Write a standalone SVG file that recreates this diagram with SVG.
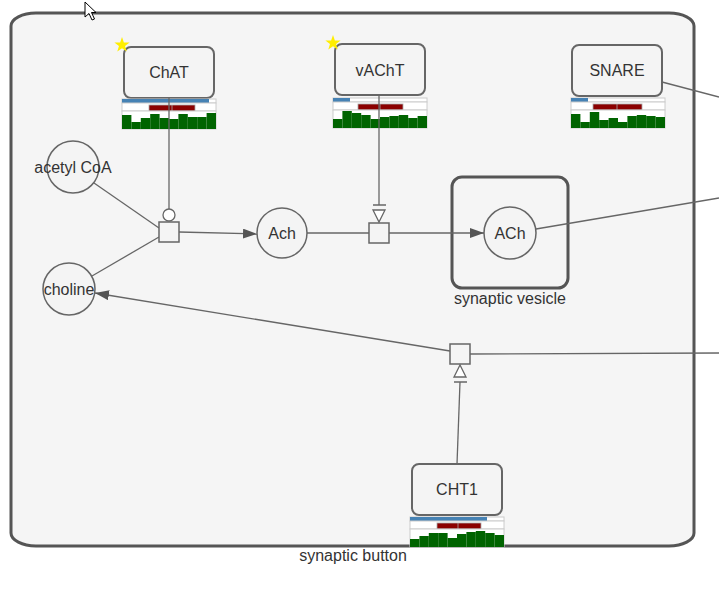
<svg xmlns="http://www.w3.org/2000/svg" width="719" height="591" viewBox="0 0 719 591">
<defs>
<style>
.lbl{font-family:"Liberation Sans",Arial,sans-serif;font-size:16px;fill:#333;text-anchor:middle;dominant-baseline:central}
.clbl{font-family:"Liberation Sans",Arial,sans-serif;font-size:16px;fill:#333;text-anchor:middle;dominant-baseline:central}
.box{fill:#f4f4f4;stroke:#666;stroke-width:2}
.circ{fill:#f4f4f4;stroke:#666;stroke-width:1.5}
.proc{fill:#f4f4f4;stroke:#666;stroke-width:1.5}
.edge{fill:none;stroke:#666;stroke-width:1.3}
.cell{fill:#fff;stroke:#ccc;stroke-width:1}
.blue{fill:#4682b4}
.red{fill:#8b0000;stroke:#aaa;stroke-width:0.8}
.g{fill:#006400}
.star{fill:#ffee00}
</style>
<marker id="arr" markerWidth="14" markerHeight="10" refX="14" refY="5" orient="auto" markerUnits="userSpaceOnUse">
<path d="M0,0 L14,5 L0,10 Z" fill="#555"/>
</marker>
<polygon id="starShape" class="star" points="0,-8 1.88,-2.59 7.61,-2.47 3.04,0.99 4.70,6.47 0,3.2 -4.70,6.47 -3.04,0.99 -7.61,-2.47 -1.88,-2.59"/>
</defs>
<rect x="0" y="0" width="719" height="591" fill="#fff"/>

<g id="synaptic_button">
<path d="M11,26 A25,13 0 0 1 36,13 L669,13 A25,13 0 0 1 694,26 L694,533 A25,13 0 0 1 669,546 L36,546 A25,13 0 0 1 11,533 Z" fill="#f5f5f5" stroke="#555" stroke-width="3"/>
<text class="clbl" x="353" y="555">synaptic button</text>
</g>

<g id="synaptic_vesicle">
<rect x="452" y="177" width="116" height="111" rx="10" ry="10" fill="#f5f5f5" stroke="#555" stroke-width="3"/>
<text class="clbl" x="510" y="298">synaptic vesicle</text>
</g>

<g id="ChAT">
<rect class="box" x="124" y="47" width="90" height="51" rx="7"/>
<text class="lbl" x="169" y="72">ChAT</text>
<use href="#starShape" x="122" y="45"/>
<g transform="translate(122,99)">
<rect class="cell" x="0" y="0" width="94" height="4"/><rect class="blue" x="0" y="0" width="87" height="4"/>
<rect class="cell" x="0" y="4" width="94" height="8"/>
<rect class="red" x="27" y="6" width="46" height="6"/><line x1="50" y1="6" x2="50" y2="12" stroke="#aaa" stroke-width="0.8"/>
<rect class="cell" x="0" y="12" width="94" height="18"/>
<rect class="g" x="0" y="16" width="9.4" height="14"/><rect class="g" x="9.4" y="23" width="9.4" height="7"/><rect class="g" x="18.8" y="19" width="9.4" height="11"/><rect class="g" x="28.2" y="15" width="9.4" height="15"/><rect class="g" x="37.6" y="19" width="9.4" height="11"/><rect class="g" x="47" y="20" width="9.4" height="10"/><rect class="g" x="56.4" y="15" width="9.4" height="15"/><rect class="g" x="65.8" y="18" width="9.4" height="12"/><rect class="g" x="75.2" y="18" width="9.4" height="12"/><rect class="g" x="84.6" y="14" width="9.4" height="16"/>
</g>
</g>

<g id="vAChT">
<rect class="box" x="335" y="44" width="90" height="51" rx="7"/>
<text class="lbl" x="380" y="70">vAChT</text>
<use href="#starShape" x="333" y="43"/>
<g transform="translate(333,98)">
<rect class="cell" x="0" y="0" width="94" height="4"/><rect class="blue" x="0" y="0" width="17" height="4"/>
<rect class="cell" x="0" y="4" width="94" height="8"/>
<rect class="red" x="25" y="6" width="45" height="6"/><line x1="47" y1="6" x2="47" y2="12" stroke="#aaa" stroke-width="0.8"/>
<rect class="cell" x="0" y="12" width="94" height="18"/>
<rect class="g" x="0" y="21" width="9.4" height="9"/><rect class="g" x="9.4" y="13" width="9.4" height="17"/><rect class="g" x="18.8" y="15" width="9.4" height="15"/><rect class="g" x="28.2" y="17" width="9.4" height="13"/><rect class="g" x="37.6" y="21" width="9.4" height="9"/><rect class="g" x="47" y="19" width="9.4" height="11"/><rect class="g" x="56.4" y="18" width="9.4" height="12"/><rect class="g" x="65.8" y="17" width="9.4" height="13"/><rect class="g" x="75.2" y="20" width="9.4" height="10"/><rect class="g" x="84.6" y="18" width="9.4" height="12"/>
</g>
</g>

<g id="SNARE">
<rect class="box" x="572" y="45" width="90" height="51" rx="7"/>
<text class="lbl" x="617" y="70">SNARE</text>
<g transform="translate(571,98)">
<rect class="cell" x="0" y="0" width="94" height="4"/><rect class="blue" x="0" y="0" width="17" height="4"/>
<rect class="cell" x="0" y="4" width="94" height="8"/>
<rect class="red" x="22" y="6" width="49" height="6"/><line x1="46" y1="6" x2="46" y2="12" stroke="#aaa" stroke-width="0.8"/>
<rect class="cell" x="0" y="12" width="94" height="18"/>
<rect class="g" x="0" y="16" width="9.4" height="14"/><rect class="g" x="9.4" y="24" width="9.4" height="6"/><rect class="g" x="18.8" y="14" width="9.4" height="16"/><rect class="g" x="28.2" y="22" width="9.4" height="8"/><rect class="g" x="37.6" y="20" width="9.4" height="10"/><rect class="g" x="47" y="24" width="9.4" height="6"/><rect class="g" x="56.4" y="18" width="9.4" height="12"/><rect class="g" x="65.8" y="17" width="9.4" height="13"/><rect class="g" x="75.2" y="18" width="9.4" height="12"/><rect class="g" x="84.6" y="19" width="9.4" height="11"/>
</g>
</g>

<g id="CHT1">
<rect class="box" x="412" y="464" width="90" height="51" rx="7"/>
<text class="lbl" x="457" y="489">CHT1</text>
<g transform="translate(410,517)">
<rect class="cell" x="0" y="0" width="94" height="4"/><rect class="blue" x="0" y="0" width="77" height="4"/>
<rect class="cell" x="0" y="4" width="94" height="8"/>
<rect class="red" x="27" y="6" width="44" height="6"/><line x1="48" y1="6" x2="48" y2="12" stroke="#aaa" stroke-width="0.8"/>
<rect class="cell" x="0" y="12" width="94" height="18"/>
<rect class="g" x="0" y="22" width="9.4" height="8"/><rect class="g" x="9.4" y="19" width="9.4" height="11"/><rect class="g" x="18.8" y="16" width="9.4" height="14"/><rect class="g" x="28.2" y="16" width="9.4" height="14"/><rect class="g" x="37.6" y="21" width="9.4" height="9"/><rect class="g" x="47" y="17" width="9.4" height="13"/><rect class="g" x="56.4" y="15" width="9.4" height="15"/><rect class="g" x="65.8" y="14" width="9.4" height="16"/><rect class="g" x="75.2" y="16" width="9.4" height="14"/><rect class="g" x="84.6" y="18" width="9.4" height="12"/>
</g>
</g>

<g id="acetyl_CoA">
<circle class="circ" cx="73" cy="167" r="26"/>
<text class="lbl" x="73" y="167">acetyl CoA</text>
</g>
<g id="choline">
<circle class="circ" cx="69" cy="289" r="26"/>
<text class="lbl" x="69" y="289">choline</text>
</g>
<g id="Ach">
<circle class="circ" cx="282" cy="233" r="25"/>
<text class="lbl" x="282" y="233">Ach</text>
</g>
<g id="ACh_vesicle">
<circle class="circ" cx="510" cy="233" r="26"/>
<text class="lbl" x="510" y="233">ACh</text>
</g>

<g id="connectors">
<line class="edge" x1="169" y1="98" x2="169" y2="209"/>
<line class="edge" x1="379" y1="95" x2="379" y2="205"/>
<line class="edge" x1="457" y1="464" x2="460" y2="382"/>
<line class="edge" x1="94" y1="183" x2="159" y2="228"/>
<line class="edge" x1="92" y1="276" x2="159" y2="237"/>
<line class="edge" x1="179" y1="232" x2="257" y2="234" marker-end="url(#arr)"/>
<line class="edge" x1="307" y1="233" x2="369" y2="233"/>
<line class="edge" x1="389" y1="233" x2="484" y2="233" marker-end="url(#arr)"/>
<line class="edge" x1="536" y1="229" x2="719" y2="198"/>
<line class="edge" x1="662" y1="82" x2="719" y2="97"/>
<line class="edge" x1="470" y1="354" x2="719" y2="353"/>
<line class="edge" x1="450" y1="351" x2="95" y2="293" marker-end="url(#arr)"/>
</g>

<g id="process_1">
<rect class="proc" x="159" y="222" width="20" height="20"/>
<circle cx="169" cy="215" r="6" fill="#fff" stroke="#666" stroke-width="1.3"/>
</g>
<g id="process_2">
<rect class="proc" x="369" y="223" width="20" height="20"/>
<line x1="373" y1="205" x2="386" y2="205" stroke="#666" stroke-width="1.5"/>
<polygon points="373,210 385,210 379,222" fill="#fff" stroke="#666" stroke-width="1.3"/>
</g>
<g id="process_3">
<rect class="proc" x="450" y="344" width="20" height="20"/>
<polygon points="454,377 466,377 460,365" fill="#fff" stroke="#666" stroke-width="1.3"/>
<line x1="454" y1="382" x2="467" y2="382" stroke="#666" stroke-width="1.5"/>
</g>

<polygon points="85,2 85,17 89,13.5 92,20 94.5,19 91.5,12.5 96,12.5 Z" fill="#fff" stroke="#000" stroke-width="1"/>
</svg>
